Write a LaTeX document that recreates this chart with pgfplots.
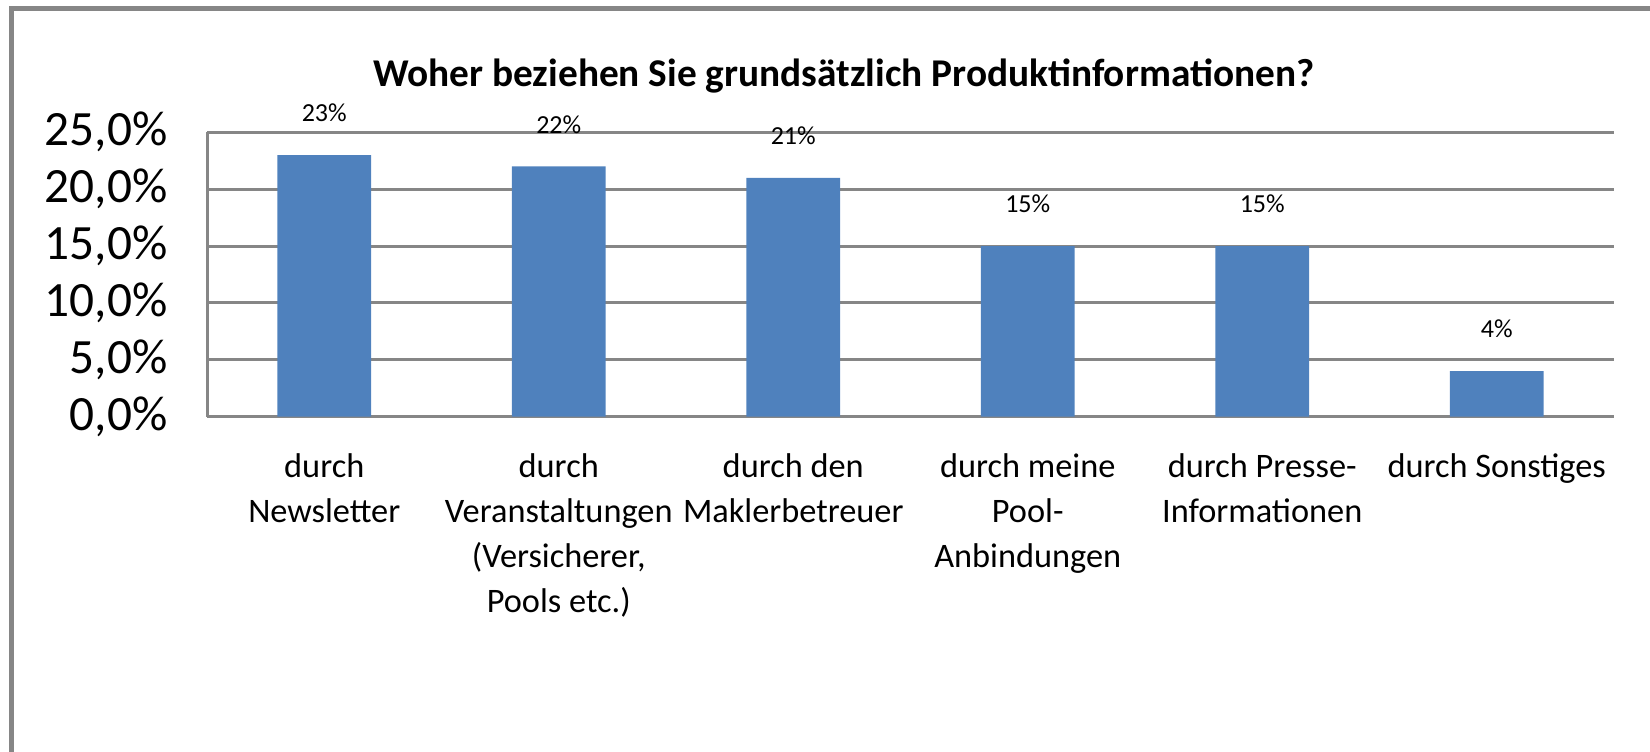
\documentclass[border=0pt]{standalone}
\usepackage{fontspec}
\setmainfont{Carlito}
\usepackage{pgfplots}
\pgfplotsset{compat=1.18}
\definecolor{barblue}{HTML}{4F81BD}
\definecolor{axgray}{HTML}{868686}

\begin{document}
\begin{tikzpicture}
% page = 1650 x 751 px at 0.3pt per px
\useasboundingbox (0,0) rectangle (495pt,-225.3pt);
\draw[axgray, line width=1.5pt] (3.3pt,-226pt) -- (3.3pt,-2.55pt) -- (496pt,-2.55pt);
\begin{axis}[
  at={(62.1pt,-125.0pt)}, anchor=south west,
  scale only axis, width=422.1pt, height=85.32pt,
  ymin=0, ymax=25, xmin=-0.5, xmax=5.5,
  axis x line*=bottom, axis y line*=left,
  axis line style={axgray, line width=0.9pt, -},
  ymajorgrids, grid style={axgray, line width=0.9pt},
  major tick length=0pt,
  /pgf/number format/assume math mode=true,
  ytick={0,5,...,25},
  yticklabels={{0,0\%},{5,0\%},{10,0\%},{15,0\%},{20,0\%},{25,0\%}},
  yticklabel style={font=\fontsize{14.8}{16}\selectfont, anchor=east, inner sep=0pt, xshift=-11.7pt},
  xtick={0,...,5},
  xticklabels={{durch\\Newsletter},
               {durch\\Veranstaltungen\\(Versicherer,\\Pools etc.)},
               {durch den\\Maklerbetreuer},
               {durch meine\\Pool-\\Anbindungen},
               {durch Presse-\\Informationen},
               {durch Sonstiges}},
  xticklabel style={font=\fontsize{10.3}{13.5}\selectfont, align=center, anchor=north, inner sep=0pt, yshift=-10.8pt},
  every axis title shift=0pt,
  title={\textbf{Woher beziehen Sie grundsätzlich Produktinformationen?}},
  title style={font=\fontsize{11.8}{14}\selectfont, at={(0.4527,1.198)}, anchor=center, yshift=0pt},
  ybar, bar width=28.1pt,
  nodes near coords={\pgfmathprintnumber[fixed,precision=0]{\pgfplotspointmeta}\%},
  nodes near coords style={font=\fontsize{7.8}{9}\selectfont, anchor=center, yshift=12.6pt},
  clip=false,
]
\addplot[fill=barblue, draw=none] coordinates {
  (0,23) (1,22) (2,21) (3,15) (4,15) (5,4)};
\end{axis}
\end{tikzpicture}
\end{document}
